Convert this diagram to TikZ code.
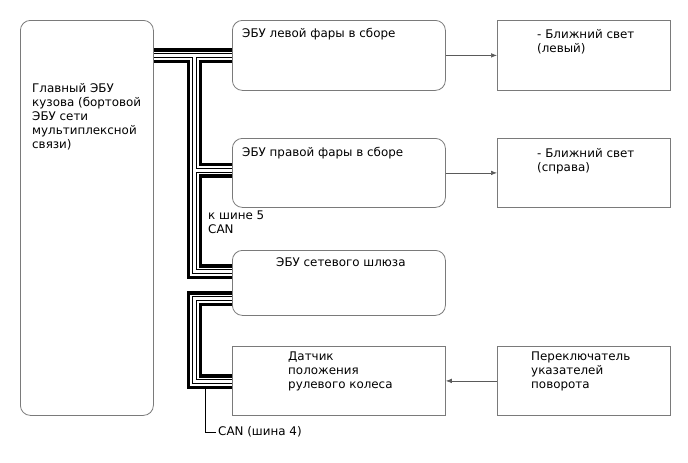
\documentclass[tikz,border=0pt]{standalone}
\usepackage{fontspec}
\setmainfont{DejaVu Sans}
\usetikzlibrary{arrows.meta}
\definecolor{boxgray}{HTML}{7A7A7A}
\definecolor{arrgray}{HTML}{5A5A5A}
\begin{document}
\begin{tikzpicture}[x=1pt,y=-1pt,
  rbox/.style={draw=boxgray, line width=0.8pt, rounded corners=10pt, anchor=north west, inner sep=0pt},
  sbox/.style={draw=boxgray, line width=0.8pt, anchor=north west, inner sep=0pt},
  txt/.style={font=\fontsize{11.9}{14}\selectfont, inner sep=0pt, anchor=north west, align=left},
  busthick/.style={line width=3.2pt, line join=miter, line cap=butt},
  busthin/.style={line width=1pt, line join=miter, line cap=butt},
  arr/.style={draw=arrgray, line width=0.6pt, -{Latex[length=6pt,width=4.5pt]}}]
\useasboundingbox[fill=white] (0,0) rectangle (688,463);
% boxes
\node[rbox, minimum width=133pt, minimum height=395pt] (main) at (20,20) {};
\node[rbox, minimum width=213pt, minimum height=70pt] (lecu) at (232,20) {};
\node[rbox, minimum width=213pt, minimum height=69pt] (recu) at (232,138) {};
\node[rbox, minimum width=213pt, minimum height=65pt] (gw) at (232,250) {};
\node[sbox, minimum width=213pt, minimum height=69pt] (sens) at (232,346) {};
\node[sbox, minimum width=173pt, minimum height=70pt] (lowl) at (497,20) {};
\node[sbox, minimum width=173pt, minimum height=69pt] (lowr) at (497,138) {};
\node[sbox, minimum width=173pt, minimum height=69pt] (turn) at (497,346) {};
% texts
\node[txt] (tmain) at (32,83) {Главный ЭБУ\\кузова (бортовой\\ЭБУ сети\\мультиплексной\\связи)};
\node[txt] (tlecu) at (242,28) {ЭБУ левой фары в сборе};
\node[txt] (trecu) at (242,147) {ЭБУ правой фары в сборе};
\node[txt] (tgw) at (276,257) {ЭБУ сетевого шлюза};
\node[txt] (tsens) at (288,352) {Датчик\\положения\\рулевого колеса};
\node[txt] (tlowl) at (537,29) {- Ближний свет\\(левый)};
\node[txt] (tlowr) at (537,148) {- Ближний свет\\(справа)};
\node[txt] (tturn) at (531,352) {Переключатель\\указателей\\поворота};
\node[txt] (can5) at (208,211) {к шине 5\\CAN};
\node[txt, anchor=west, inner sep=2pt] (can4) at (216,432) {CAN (шина 4)};
% arrows
\draw[arr] (lecu.east) -- (lowl.west);
\draw[arr] (recu.east) -- (lowr.west);
\draw[arr] (turn.west) -- (sens.east);
% bus (main, left ECU, right ECU, gateway)
\draw[busthick] (main.east |- 0,50) -- (lecu.west |- 0,50);
\draw[busthin] (main.east |- 0,53.9) -- (lecu.west |- 0,53.9);
\draw[busthin] (main.east |- 0,57.8) -- (192.4,57.8) -- (192.4,273.8) -- (gw.west |- 0,273.8);
\draw[busthick] (main.east |- 0,61.7) -- (188.5,61.7) -- (188.5,277.7) -- (gw.west |- 0,277.7);
\draw[busthin] (lecu.west |- 0,57.8) -- (196.3,57.8) -- (196.3,168.2) -- (recu.west |- 0,168.2);
\draw[busthick] (lecu.west |- 0,61.7) -- (200.2,61.7) -- (200.2,164.3) -- (recu.west |- 0,164.3);
\draw[busthin] (recu.west |- 0,172.1) -- (196.3,172.1) -- (196.3,269.9) -- (gw.west |- 0,269.9);
\draw[busthick] (recu.west |- 0,176) -- (200.2,176) -- (200.2,266) -- (gw.west |- 0,266);
% bus 4 (gateway, steering sensor)
\draw[busthick] (gw.west |- 0,293) -- (188.5,293) -- (188.5,387.7) -- (sens.west |- 0,387.7);
\draw[busthin] (gw.west |- 0,296.9) -- (192.4,296.9) -- (192.4,383.8) -- (sens.west |- 0,383.8);
\draw[busthin] (gw.west |- 0,300.8) -- (196.3,300.8) -- (196.3,379.9) -- (sens.west |- 0,379.9);
\draw[busthick] (gw.west |- 0,304.7) -- (200.2,304.7) -- (200.2,376) -- (sens.west |- 0,376);
% leader
\draw[line width=0.8pt] (205,389.3) |- (can4.west);
\end{tikzpicture}
\end{document}
